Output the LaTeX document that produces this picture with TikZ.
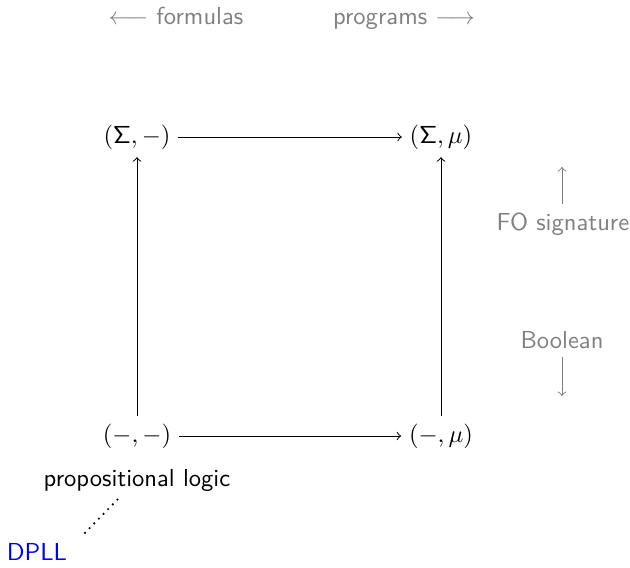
\documentclass[tikz,border=0pt]{standalone}
\usetikzlibrary{arrows}
\begin{document}
\begin{tikzpicture}[x=0.0143cm,y=-0.0143cm,font=\sffamily,
  obj/.style={inner sep=3pt},
  hint/.style={text=black!50},
  hintarrow/.style={draw=black!50,-to,line width=0.4pt},
  mor/.style={-to,line width=0.4pt}]
\useasboundingbox (0,0) rectangle (630,568);
\node[hint,anchor=base] (formulas) at (176,24) {$\longleftarrow$ formulas};
\node[hint,anchor=base] (programs) at (404,24) {programs $\longrightarrow$};
\node[obj] (SM) at (137,137) {$(\mathsf{\Sigma},-)$};
\node[obj] (SF) at (441,137) {$(\mathsf{\Sigma},\mu)$};
\node[obj] (MM) at (137,436) {$(-,-)$};
\node[obj] (MF) at (441,436) {$(-,\mu)$};
\draw[mor] (SM) -- (SF);
\draw[mor] (MM) -- (MF);
\draw[mor] (MM) -- (SM);
\draw[mor] (MF) -- (SF);
\node[hint,inner xsep=0pt] (fo) at (563,224) {FO signature};
\coordinate (foTop) at (562,167);
\draw[hintarrow] (fo.north -| foTop) -- (foTop);
\node[hint] (bool) at (562,340) {Boolean};
\coordinate (boolBot) at (562,396);
\draw[hintarrow] (bool.south -| boolBot) -- (boolBot);
\node (prop) at (137,480) {propositional logic};
\node[text=blue] (dpll) at (37,552) {DPLL};
\coordinate (pa) at (118,499);
\coordinate (pb) at (81,537);
\draw[dotted,line width=0.7pt] (pa) -- (pb);
\end{tikzpicture}
\end{document}
